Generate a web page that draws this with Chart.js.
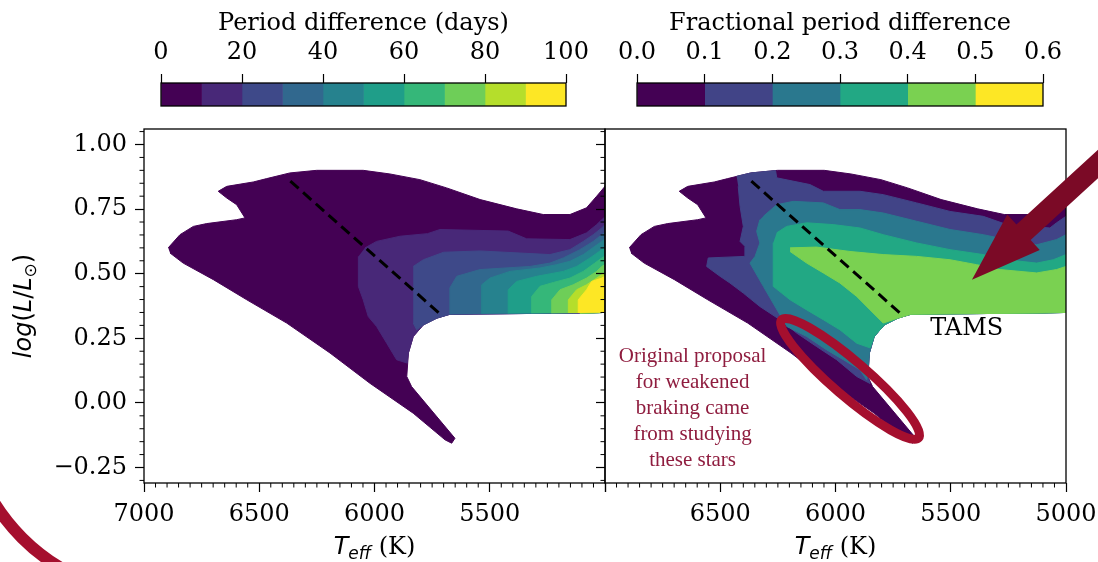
<!DOCTYPE html>
<html>
<head>
<meta charset="utf-8">
<script src="https://cdn.jsdelivr.net/npm/chart.js@4.4.1/dist/chart.umd.min.js"></script>
<style>
  html, body { margin: 0; padding: 0; background: #fff; }
  body { width: 1098px; height: 562px; position: relative; overflow: hidden; }
  canvas { position: absolute; }
</style>
</head>
<body>
<canvas id="cb-days" width="470" height="115" style="left:130px;top:0"></canvas>
<canvas id="cb-frac" width="470" height="115" style="left:600px;top:0"></canvas>
<canvas id="hr-days" width="612" height="447" style="left:0;top:115px"></canvas>
<canvas id="hr-frac" width="508" height="447" style="left:590px;top:115px"></canvas>
<script>
// colour bins (discrete viridis)
const VIRIDIS_10 = ['#440154', '#482878', '#3e4989', '#31688e', '#26828e', '#1f9e89', '#35b779', '#6ece58', '#b5de2b', '#fde725'];
const VIRIDIS_6 = ['#440154', '#414487', '#2a788e', '#22a884', '#7ad151', '#fde725'];

// colorbars
const DAYS_EDGES = [0, 10, 20, 30, 40, 50, 60, 70, 80, 90, 100];
const DAYS_TICKS = [0, 20, 40, 60, 80, 100];
const FRAC_EDGES = [0, 0.1, 0.2, 0.3, 0.4, 0.5, 0.6];
const FRAC_TICKS = [0, 0.1, 0.2, 0.3, 0.4, 0.5, 0.6];

// axes
const TEFF_TICKS = [5000, 5500, 6000, 6500, 7000];
const LUM_TICKS = [-0.25, 0, 0.25, 0.5, 0.75, 1.0];

// outline of the model grid, [Teff, logL] (same in both panels)
const OUTLINE = [[6895,0.600],[6844,0.651],[6786,0.683],[6728,0.694],[6598,0.709],[6562,0.716],[6598,0.767],[6641,0.793],
  [6678,0.819],[6641,0.838],[6526,0.855],[6468,0.868],[6367,0.890],[6251,0.900],[6049,0.900],[5933,0.886],[5803,0.864],
  [5687,0.832],[5542,0.787],[5383,0.751],[5268,0.729],[5152,0.729],[5080,0.755],[5036,0.800],[5000,0.838],[5000,0.350],
  [5109,0.348],[5673,0.343],[5730,0.328],[5788,0.302],[5832,0.257],[5853,0.193],[5860,0.102],[5839,0.063],[5651,-0.137],
  [5665,-0.156],[5694,-0.143],[5832,-0.040],[6020,0.076],[6193,0.193],[6381,0.309],[6554,0.399],[6699,0.477],[6830,0.541],[6887,0.580]];

// period difference (days): regions at or above 10, 20, ... 90
const DAYS_10 = [[6041,0.600],[5991,0.625],[5889,0.645],[5770,0.655],[5716,0.671],[5420,0.665],[5340,0.635],[5152,0.632],
  [5080,0.658],[5036,0.690],[5014,0.709],[5000,0.720],[5000,0.350],[5109,0.348],[5673,0.343],[5730,0.328],[5788,0.302],
  [5832,0.257],[5853,0.193],[5858,0.154],[5904,0.167],[5947,0.231],[5991,0.296],[6027,0.334],[6049,0.399],[6070,0.451],[6070,0.567]];
const DAYS_20 = [[5832,0.528],[5788,0.554],[5700,0.583],[5542,0.588],[5239,0.574],[5152,0.593],[5094,0.625],[5051,0.651],
  [5014,0.677],[5000,0.690],[5000,0.350],[5109,0.348],[5673,0.343],[5730,0.328],[5788,0.302],[5817,0.283],[5832,0.309]];
const DAYS_30 = [[5673,0.343],[5673,0.445],[5643,0.490],[5542,0.516],[5326,0.528],[5239,0.541],[5181,0.561],[5109,0.593],
  [5051,0.625],[5014,0.651],[5000,0.660],[5000,0.350],[5109,0.348]];
const DAYS_40 = [[5535,0.345],[5535,0.457],[5499,0.483],[5412,0.509],[5282,0.522],[5210,0.535],[5152,0.548],[5094,0.574],
  [5044,0.606],[5014,0.625],[5000,0.635],[5000,0.350],[5109,0.348]];
const DAYS_50 = [[5420,0.346],[5420,0.438],[5383,0.470],[5296,0.490],[5181,0.509],[5123,0.528],[5065,0.561],[5014,0.593],
  [5000,0.600],[5000,0.350],[5109,0.348]];
const DAYS_60 = [[5318,0.347],[5318,0.412],[5282,0.451],[5224,0.466],[5152,0.483],[5094,0.509],[5044,0.541],[5014,0.561],
  [5000,0.568],[5000,0.350],[5109,0.348]];
const DAYS_70 = [[5231,0.347],[5231,0.399],[5195,0.438],[5138,0.457],[5080,0.483],[5036,0.509],[5014,0.528],[5000,0.535],
  [5000,0.350],[5109,0.348]];
const DAYS_80 = [[5159,0.348],[5159,0.399],[5123,0.438],[5080,0.457],[5036,0.483],[5014,0.496],[5000,0.500],[5000,0.350],[5109,0.348]];
const DAYS_90 = [[5116,0.348],[5116,0.399],[5080,0.438],[5058,0.470],[5014,0.483],[5000,0.490],[5000,0.350]];

// fractional period difference: regions at or above 0.1, 0.2, 0.3, 0.4
const FRAC_01 = [[6429,0.877],[6367,0.890],[6260,0.899],[6255,0.871],[6111,0.845],[6053,0.819],[5894,0.819],[5793,0.806],
  [5648,0.774],[5503,0.741],[5359,0.722],[5257,0.690],[5070,0.677],[5041,0.697],[5000,0.722],[5000,0.350],[5109,0.348],
  [5673,0.343],[5730,0.328],[5788,0.302],[5832,0.257],[5853,0.193],[5860,0.102],[5850,0.075],[5908,0.102],[5995,0.167],
  [6082,0.218],[6168,0.270],[6241,0.322],[6328,0.373],[6400,0.425],[6458,0.464],[6501,0.490],[6559,0.528],[6552,0.561],
  [6393,0.567],[6393,0.606],[6414,0.625],[6400,0.683],[6414,0.761],[6422,0.838]];
const FRAC_02 = [[6313,0.722],[6255,0.767],[6183,0.780],[6053,0.774],[5981,0.748],[5894,0.748],[5793,0.735],[5648,0.703],
  [5503,0.671],[5359,0.651],[5257,0.632],[5127,0.612],[5041,0.632],[5000,0.651],[5000,0.350],[5109,0.348],[5673,0.343],
  [5730,0.328],[5788,0.302],[5832,0.257],[5853,0.193],[5858,0.120],[5865,0.089],[5894,0.128],[5966,0.167],[6038,0.205],
  [6125,0.257],[6212,0.296],[6313,0.451],[6371,0.541],[6349,0.567],[6328,0.619],[6342,0.664],[6328,0.709]];
const FRAC_03 = [[6255,0.658],[6212,0.683],[6125,0.697],[6010,0.690],[5894,0.677],[5793,0.651],[5648,0.619],[5503,0.593],
  [5359,0.574],[5257,0.554],[5127,0.541],[5055,0.554],[5000,0.574],[5000,0.350],[5109,0.348],[5673,0.343],[5730,0.328],
  [5788,0.302],[5832,0.257],[5850,0.213],[5908,0.231],[5981,0.283],[6053,0.322],[6125,0.360],[6197,0.399],[6270,0.451],[6270,0.620]];
const FRAC_04 = [[6197,0.600],[6082,0.603],[5937,0.586],[5793,0.574],[5648,0.567],[5503,0.554],[5388,0.535],[5286,0.516],
  [5127,0.503],[5041,0.516],[5000,0.528],[5000,0.350],[5109,0.348],[5673,0.343],[5730,0.328],[5793,0.309],[5850,0.360],
  [5908,0.412],[5981,0.464],[6053,0.503],[6125,0.541],[6197,0.586]];

// terminal-age main sequence line
const TAMS_LINE = [[6365,0.858],[5705,0.336]];

// annotations (data coordinates)
const NOTE_LINES = ['Original proposal', 'for weakened', 'braking came', 'from studying', 'these stars'];
const NOTE_AT = [6620, 0.18];
const RING_AT = [5937, 0.093];
const ARROW_TIP = [5408, 0.477];
const ARROW_TAIL = [4800, 0.975];
const TAMS_LABEL_AT = [5431, 0.285];

const FONT = "'DejaVu Serif'";

const toPts = poly => poly.map(([x, y]) => ({x, y}));

function region(poly, color, order) {
  return {data: toPts(poly), borderColor: color, backgroundColor: color, borderWidth: 1,
    pointRadius: 0, fill: 'shape', tension: 0, order};
}

const frame = {
  id: 'frame',
  afterDatasetsDraw(chart) {
    const {ctx, chartArea: a, scales} = chart;
    ctx.save();
    ctx.strokeStyle = '#000';
    ctx.lineWidth = 1.3;
    ctx.strokeRect(a.left, a.top, a.right - a.left, a.bottom - a.top);
    // minor ticks
    ctx.lineWidth = 1;
    ctx.beginPath();
    for (let i = 101; i < 140; i++) {
      if ((i * 50) % 500 === 0) continue;
      const px = scales.x.getPixelForValue(i * 50);
      ctx.moveTo(px, a.bottom); ctx.lineTo(px, a.bottom + 4.5);
    }
    for (let i = -6; i <= 21; i++) {
      if (i % 5 === 0) continue;
      const py = scales.y.getPixelForValue(i * 0.05);
      ctx.moveTo(a.left, py); ctx.lineTo(a.left - 4.5, py);
    }
    ctx.stroke();
    ctx.restore();
  }
};

function drawPieces(ctx, pieces, x0, y0) {
  let w = 0;
  pieces.forEach(p => { ctx.font = p[1]; w += ctx.measureText(p[0]).width; });
  let x = x0 - w / 2;
  pieces.forEach(p => {
    ctx.font = p[1];
    ctx.fillText(p[0], x, y0 + (p[2] || 0));
    x += ctx.measureText(p[0]).width;
  });
}

const axisLabels = {
  id: 'axisLabels',
  afterDraw(chart, args, opts) {
    const {ctx, chartArea: a} = chart;
    ctx.save();
    ctx.fillStyle = '#000';
    ctx.textBaseline = 'alphabetic';
    ctx.textAlign = 'left';
    drawPieces(ctx, [
      ['T', "italic 24px 'DejaVu Sans'"],
      ['eff', "italic 17px 'DejaVu Sans'", 5],
      [' (K)', '24px ' + FONT]
    ], (a.left + a.right) / 2, a.bottom + 71);
    if (opts.yLabel) {
      ctx.translate(31, (a.top + a.bottom) / 2);
      ctx.rotate(-Math.PI / 2);
      drawPieces(ctx, [
        ['log', "italic 24px 'DejaVu Sans'"],
        ['(', "24px 'DejaVu Sans'"],
        ['L', "italic 24px 'DejaVu Sans'"],
        ['/', "24px 'DejaVu Sans'"],
        ['L', "italic 24px 'DejaVu Sans'"],
        ['\u2299', "17px 'DejaVu Sans'", 5],
        [')', "24px 'DejaVu Sans'"]
      ], 0, 0);
    }
    ctx.restore();
  }
};

const cornerArc = {
  id: 'cornerArc',
  afterDraw(chart) {
    const ctx = chart.ctx;
    ctx.save();
    ctx.strokeStyle = '#a50f2e';
    ctx.lineWidth = 12;
    ctx.beginPath();
    ctx.arc(160, 285, 195, Math.PI * 0.6, Math.PI * 0.9);
    ctx.stroke();
    ctx.restore();
  }
};

const callouts = {
  id: 'callouts',
  afterDraw(chart) {
    const {ctx, scales: {x, y}} = chart;
    const px = p => [x.getPixelForValue(p[0]), y.getPixelForValue(p[1])];
    ctx.save();

    // TAMS label
    const [tx, ty] = px(TAMS_LABEL_AT);
    ctx.fillStyle = '#000';
    ctx.font = '24px ' + FONT;
    ctx.textAlign = 'center';
    ctx.textBaseline = 'middle';
    ctx.fillText('TAMS', tx, ty);

    // note
    const [nx, ny] = px(NOTE_AT);
    ctx.fillStyle = '#8f1d3f';
    ctx.font = "21px 'Liberation Serif'";
    NOTE_LINES.forEach((s, i) => ctx.fillText(s, nx, ny + i * 26));

    // ring round the low-mass tail
    const [rx, ry] = px(RING_AT);
    ctx.strokeStyle = '#a50f2e';
    ctx.lineWidth = 9;
    ctx.beginPath();
    ctx.ellipse(rx, ry, 90.5, 17.5, 40.7 * Math.PI / 180, 0, Math.PI * 2);
    ctx.stroke();

    // arrow
    const [ax, ay] = px(ARROW_TIP);
    const [bx, by] = px(ARROW_TAIL);
    const len = Math.hypot(bx - ax, by - ay);
    const ux = (bx - ax) / len, uy = (by - ay) / len;
    const nxv = -uy, nyv = ux;
    const H = 70, W = 24, S = 10.5;
    const cx = ax + ux * H, cy = ay + uy * H;
    ctx.fillStyle = '#7b0a26';
    ctx.beginPath();
    ctx.moveTo(ax, ay);
    ctx.lineTo(cx + nxv * W, cy + nyv * W);
    ctx.lineTo(cx + nxv * S, cy + nyv * S);
    ctx.lineTo(bx + nxv * S, by + nyv * S);
    ctx.lineTo(bx - nxv * S, by - nyv * S);
    ctx.lineTo(cx - nxv * S, cy - nyv * S);
    ctx.lineTo(cx - nxv * W, cy - nyv * W);
    ctx.closePath();
    ctx.fill();
    ctx.restore();
  }
};

function hrChart(id, regions, colors, opts) {
  const datasets = regions.map((poly, i) => region(poly, colors[i], 50 - i));
  datasets.push({data: toPts(TAMS_LINE), borderColor: '#000', borderWidth: 3, borderDash: [11, 6],
    pointRadius: 0, fill: false, order: 0});
  const tickFont = {family: FONT, size: 24};
  return new Chart(document.getElementById(id), {
    type: 'line',
    data: {datasets},
    options: {
      responsive: false, animation: false, events: [],
      layout: {padding: {top: 14, right: opts.padRight, left: 0, bottom: 0}},
      plugins: {legend: {display: false}, tooltip: {enabled: false}, axisLabels: {yLabel: opts.yLabel}},
      scales: {
        x: {
          type: 'linear', reverse: true, min: 5000, max: 7000,
          afterBuildTicks: s => { s.ticks = TEFF_TICKS.map(v => ({value: v})); },
          afterFit: s => { s.height = 79; s.paddingLeft = 0; s.paddingRight = 0; },
          ticks: {font: tickFont, color: '#000', padding: 8, maxRotation: 0, autoSkip: false,
            callback: v => (v === opts.hideTeff ? '' : String(v))},
          grid: {drawOnChartArea: false, tickLength: 9, tickColor: '#000', tickWidth: 1.2},
          border: {display: false}
        },
        y: {
          type: 'linear', min: -0.31, max: 1.06,
          afterBuildTicks: s => { s.ticks = LUM_TICKS.map(v => ({value: v})); },
          afterFit: s => { s.width = opts.yWidth; s.paddingTop = 0; s.paddingBottom = 0; },
          ticks: {font: tickFont, color: '#000', padding: 8, autoSkip: false,
            callback: v => (opts.yLabel ? v.toFixed(2).replace('-', '\u2212') : '')},
          grid: {drawOnChartArea: false, tickLength: 9, tickColor: '#000', tickWidth: 1.2},
          border: {display: false}
        }
      }
    },
    plugins: [frame, axisLabels].concat(opts.extra)
  });
}

const cbFrame = {
  id: 'cbFrame',
  afterDatasetsDraw(chart) {
    const {ctx, chartArea: a} = chart;
    ctx.save();
    ctx.strokeStyle = '#000';
    ctx.lineWidth = 1.3;
    ctx.strokeRect(a.left, a.top, a.right - a.left, a.bottom - a.top);
    ctx.restore();
  }
};

function colorbar(id, edges, colors, ticks, title, fmt, padL, padR) {
  return new Chart(document.getElementById(id), {
    type: 'bar',
    data: {
      labels: [''],
      datasets: colors.map((c, i) => ({data: [[edges[i], edges[i + 1]]], backgroundColor: c, borderWidth: 0,
        grouped: false, barPercentage: 1, categoryPercentage: 1}))
    },
    options: {
      indexAxis: 'y', responsive: false, animation: false, events: [],
      layout: {padding: {left: padL, right: padR, top: 0, bottom: 9}},
      plugins: {legend: {display: false}, tooltip: {enabled: false}},
      scales: {
        x: {
          type: 'linear', position: 'top', min: edges[0], max: edges[edges.length - 1],
          afterBuildTicks: s => { s.ticks = ticks.map(v => ({value: v})); },
          afterFit: s => { s.height = 83; },
          ticks: {font: {family: FONT, size: 24}, color: '#000', padding: 7, maxRotation: 0, autoSkip: false,
            callback: v => fmt(v)},
          grid: {drawOnChartArea: false, tickLength: 9, tickColor: '#000', tickWidth: 1.2},
          border: {display: false},
          title: {display: true, text: title, color: '#000', font: {family: FONT, size: 24}, padding: {top: 9, bottom: 0}}
        },
        y: {display: false}
      }
    },
    plugins: [cbFrame]
  });
}

colorbar('cb-days', DAYS_EDGES, VIRIDIS_10, DAYS_TICKS, 'Period difference (days)', v => String(v), 31, 34);
colorbar('cb-frac', FRAC_EDGES, VIRIDIS_6, FRAC_TICKS, 'Fractional period difference', v => v.toFixed(1), 37, 27);

hrChart('hr-days', [OUTLINE, DAYS_10, DAYS_20, DAYS_30, DAYS_40, DAYS_50, DAYS_60, DAYS_70, DAYS_80, DAYS_90], VIRIDIS_10,
  {padRight: 7, yWidth: 144, yLabel: true, hideTeff: 5000, extra: [cornerArc]});
hrChart('hr-frac', [OUTLINE, FRAC_01, FRAC_02, FRAC_03, FRAC_04], VIRIDIS_6,
  {padRight: 32, yWidth: 15, yLabel: false, hideTeff: 7000, extra: [callouts]});
</script>
</body>
</html>
